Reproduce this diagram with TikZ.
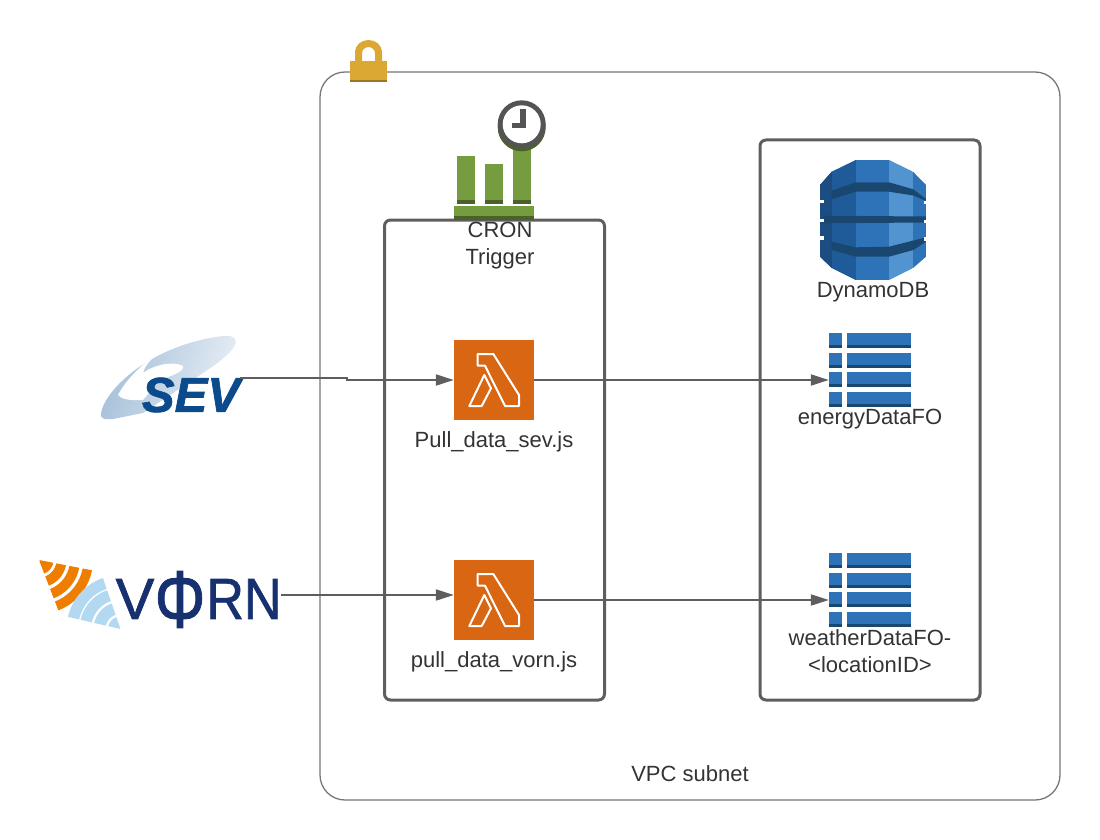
\documentclass[tikz,border=0pt]{standalone}
\usepackage{fontspec}
\setmainfont{Liberation Sans}
\usetikzlibrary{arrows.meta,positioning,calc}
\definecolor{linegrey}{HTML}{5E5E5E}
\definecolor{textgrey}{HTML}{333333}
\definecolor{lambdaorange}{HTML}{D86613}
\definecolor{lockgold}{HTML}{DBA834}
\definecolor{cronclock}{HTML}{545454}
\definecolor{crongreen}{HTML}{759C3E}
\definecolor{crondark}{HTML}{4B612C}
\definecolor{dbmid}{HTML}{2E73B8}
\definecolor{dbdark}{HTML}{205B99}
\definecolor{dblight}{HTML}{5294CF}
\definecolor{dbband}{HTML}{1A476F}
\definecolor{sevblue}{HTML}{0B4A8B}
\definecolor{sevpale}{HTML}{A4BFD9}
\definecolor{vornnavy}{HTML}{17306F}
\definecolor{vornorange}{HTML}{EF7D00}
\definecolor{vornpale}{HTML}{B3D9F2}

\begin{document}
\begin{tikzpicture}[
    x=1pt, y=-1pt,
    label/.style={font=\fontsize{22}{27}\selectfont, text=textgrey, align=center, inner sep=0pt},
    vpcbox/.style={rectangle, draw=linegrey!85, line width=1.3pt, rounded corners=25pt,
                   minimum width=740pt, minimum height=728pt},
    groupbox/.style={rectangle, draw=linegrey, line width=3pt, rounded corners=6pt},
    lambdabox/.style={rectangle, fill=lambdaorange, minimum width=80pt, minimum height=80pt, inner sep=0pt},
    logobox/.style={rectangle, inner sep=0pt},
    vornletter/.style={logobox, font=\fontsize{58}{58}\selectfont\addfontfeature{FakeBold=1.2}, text=vornnavy},
    arrow/.style={-{Triangle[length=18pt,width=11pt]}, draw=linegrey, line width=2pt},
    lambdaglyph/.pic={
        \draw[white, line width=2pt, line join=round]
            (-16.3,-26) -- (-0.7,-26) -- (25,15) -- (25,26) -- (11,26) -- (-9,-14.3) -- (-16.3,-14.3) -- cycle
            (-9.7,-5) -- (-3,8.3) -- (-12.3,26) -- (-24.7,26) -- cycle;
    },
    tableglyph/.pic={
        \foreach \ytop in {-37,-17.5,2,21.5}{
            \fill[dbmid] (-41,\ytop) rectangle (-27.7,\ytop+15.3);
            \fill[dbmid] (-22.7,\ytop) rectangle (41,\ytop+15.3);
            \fill[dbband] (-41,\ytop+12.3) rectangle (-27.7,\ytop+15.3);
            \fill[dbband] (-22.7,\ytop+12.3) rectangle (41,\ytop+15.3);
        }
    }
]
    \useasboundingbox (0,0) rectangle (1100,840);

    \node[vpcbox] (vpc) at (690,436) {};
    \node[groupbox, minimum width=220pt, minimum height=480pt] (lambdagroup) at (494.5,460) {};
    \node[groupbox, minimum width=220pt, minimum height=560pt] (dynamogroup) at (870,420) {};

    % lock
    \fill[lockgold, even odd rule] (355,62) -- (355,53) .. controls (355,35.7) and (382,35.7) .. (382,53) -- (382,62) -- cycle
        (362,62) -- (362,53.5) .. controls (362,45) and (375,45) .. (375,53.5) -- (375,62) -- cycle;
    \fill[lockgold] (350,61) rectangle (387,82);
    \fill[lockgold!70!black] (350,80.5) rectangle (387,82);

    % cron icon
    \fill[crongreen] (457,156) rectangle (475,204);
    \fill[crongreen] (485,164) rectangle (503,204);
    \fill[crongreen] (513,145) rectangle (531,204);
    \foreach \xbar in {457,485,513}
        \fill[crondark] (\xbar,200) rectangle (\xbar+18,204);
    \fill[crongreen] (454,206) rectangle (534,216);
    \fill[crondark] (454,216) rectangle (534,220);
    \fill[crondark] (521.7,127.3) circle[radius=24pt];
    \fill[cronclock] (521.7,124.3) circle[radius=24pt];
    \fill[white] (521.7,124.3) circle[radius=19pt];
    \fill[cronclock] (520,109) rectangle (526,127.7);
    \fill[cronclock] (512,123.3) rectangle (526,127.7);
    \node[label] (crontext) at (500,246) {CRON\\Trigger};

    % dynamodb icon
    \begin{scope}
        \clip (855.7,160) -- (889,160) -- (913,171.7) -- (926,185) -- (926,256.7) -- (913,268) -- (889,280)
            -- (855.7,280) -- (831.7,268) -- (820,256.7) -- (820,185) -- (831.7,171.7) -- cycle;
        \fill[dbdark] (820,160) rectangle (855.7,280);
        \fill[dbmid] (855.7,160) rectangle (889,280);
        \fill[dblight] (889,160) rectangle (913.3,280);
        \fill[dbmid] (913.3,160) rectangle (926,280);
        \fill[dbdark!85!black] (820,160) rectangle (831.7,280);
        \fill[dbband] (831.7,190.7) -- (855.7,182.3) -- (889,182.3) -- (913.3,189.3) -- (926,199) -- (926,201)
            -- (913.3,195.5) -- (889,191.7) -- (855.7,191.7) -- (831.7,199.3) -- cycle;
        \fill[dbband] (823,215.7) -- (926,216.5) -- (926,222.5) -- (823,223.3) -- cycle;
        \fill[dbband] (831.7,241.7) -- (855.7,247.3) -- (889,246.7) -- (926,237.3) -- (926,241.7)
            -- (913.3,250) -- (889,256.7) -- (855.7,256.7) -- (831.7,250) -- cycle;
        \foreach \ygap in {199.5,218.5,236}{
            \fill[white] (820,\ygap) rectangle (823.5,\ygap+3.5);
            \fill[white] (924,\ygap+1) rectangle (926,\ygap+4.5);
        }
    \end{scope}
    \node[label] (dynamotext) at (873,292.5) {DynamoDB};

    % lambdas and tables
    \node[lambdabox] (pullsev) at (494,380) {};
    \node[lambdabox] (pullvorn) at (494,600) {};
    \pic at (pullsev) {lambdaglyph};
    \pic at (pullvorn) {lambdaglyph};
    \node[label] (pullsevtext) at (494,442) {Pull\_data\_sev.js};
    \node[label] (pullvorntext) at (494,661.5) {pull\_data\_vorn.js};

    \node[logobox, minimum width=82pt, minimum height=74pt] (energytable) at (870,370) {};
    \node[logobox, minimum width=82pt, minimum height=74pt] (weathertable) at (870,590) {};
    \pic at (energytable) {tableglyph};
    \pic at (weathertable) {tableglyph};
    \node[label] (energytext) at (870,419.5) {energyDataFO};
    \node[label] (weathertext) at (870,651.5) {weatherDataFO-\\<locationID>};

    % sev logo
    \shade[left color=sevpale, right color=sevpale!25, shading angle=70]
        (101,413) .. controls (105,390) and (150,345) .. (223,336) .. controls (232,335) and (238,338) .. (235,345)
        .. controls (230,355) and (215,365) .. (200,375) -- (143,413) -- (113,419) .. controls (103,420) and (100,418) .. (101,413) -- cycle;
    \fill[white] (118,395) .. controls (126,380) and (140,366) .. (158,353) .. controls (148,362) and (144,368) .. (143,373)
        .. controls (155,364) and (175,361) .. (183,366) .. controls (185,372) and (170,376) .. (160,380)
        -- (143,400) .. controls (130,401) and (121,399) .. (118,395) -- cycle;
    \node[logobox, minimum width=140pt, minimum height=84pt] (sev) at (170,378) {};
    \node[logobox, font=\fontsize{49}{49}\selectfont\bfseries\itshape\addfontfeature{FakeBold=1.5}, text=sevblue] (sevtext) at (191,395) {SEV};

    % vorn logo
    \foreach \ra/\rb in {1/14.5,17.5/27.5,31/41,44.5/54}
        \fill[vornorange] plot[domain=11:69, samples=10] ({39+\rb*cos(\x)},{560+\rb*sin(\x)})
            -- plot[domain=69:11, samples=10] ({39+\ra*cos(\x)},{560+\ra*sin(\x)}) -- cycle;
    \foreach \ra/\rb in {0.5/12.5,15/27,29.5/41,42.5/54}
        \fill[vornpale] plot[domain=193:251, samples=10] ({120.5+\rb*cos(\x)},{629+\rb*sin(\x)})
            -- plot[domain=251:193, samples=10] ({120.5+\ra*cos(\x)},{629+\ra*sin(\x)}) -- cycle;
    \node[logobox, minimum width=241pt, minimum height=70pt] (vorn) at (160.5,595) {};
    \node[vornletter] (vornv) at (135,599) {V};
    \node[vornletter] (vornphi) at (180,599.5) {\scalebox{1.1}[1.4]{Φ}};
    \node[vornletter] (vornrn) at (244,599) {\scalebox{0.9}[1]{RN}};
    \fill[vornnavy] (177.5,572) rectangle (182.5,627);

    % connectors
    \draw[arrow] (sev.east) -- ++(107,0) |- (pullsev.west);
    \draw[arrow] (vorn.east) -- (vorn.east -| pullvorn.west);
    \draw[arrow] (pullsev.east) -- (pullsev.east -| energytable.west);
    \draw[arrow] (pullvorn.east) -- (pullvorn.east -| weathertable.west);

    \node[label] (vpctext) at (690,774) {VPC subnet};
\end{tikzpicture}
\end{document}
